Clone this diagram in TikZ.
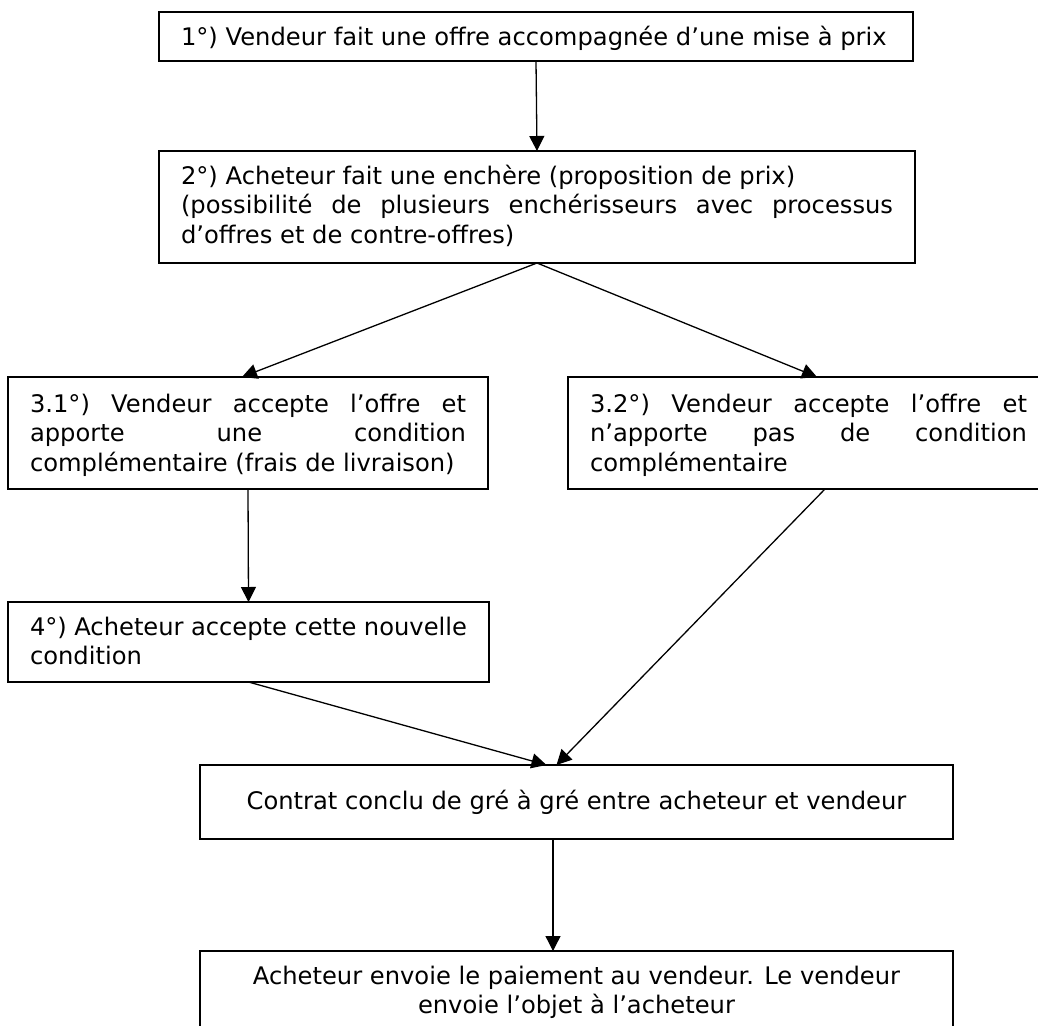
\documentclass[tikz,border=0pt]{standalone}
\usepackage{fontspec}
\setmainfont{DejaVu Sans}
\usetikzlibrary{arrows.meta}
% #1 text width, #2 box height, #3 gap above first line, #4 text
\newcommand\boxtxt[4]{\parbox[c][#2pt][t]{#1pt}{\hyphenpenalty=10000\relax\exhyphenpenalty=10000\relax\vspace*{#3pt}\strut #4}}
\begin{document}
\begin{tikzpicture}[x=1pt,y=-1pt,
  box/.style={draw, line width=1.4pt, anchor=north west, inner xsep=22pt, inner ysep=0pt, outer sep=0pt,
              font=\fontsize{24.2}{29.5}\selectfont},
  conn/.style={line width=1.3pt, -{Triangle[length=15pt,width=15pt]}},
]
\useasboundingbox (0,0) rectangle (1038,1025);
\fill[white] (0,0) rectangle (1038,1025);
\clip (0,0) rectangle (1038,1025);

\node[box] (b1) at (159,12) {\boxtxt{710}{49}{12.5}{1°) Vendeur fait une offre accompagnée d’une mise à prix}};
\node[box] (b2) at (159,151) {\boxtxt{712}{112}{12.8}{2°) Acheteur fait une enchère (proposition de prix)\newline
(possibilité de plusieurs enchérisseurs avec processus\linebreak
d’offres et de contre-offres)}};
\node[box] (b31) at (8,377) {\boxtxt{436}{112}{14.8}{3.1°) Vendeur accepte l’offre et\linebreak
apporte une condition\linebreak
complémentaire (frais de livraison)}};
\node[box] (b32) at (568,377) {\boxtxt{437}{112}{14.8}{3.2°) Vendeur accepte l’offre et\linebreak
n’apporte pas de condition\linebreak
complémentaire}};
\node[box] (b4) at (8,602) {\boxtxt{437}{80}{12.8}{4°) Acheteur accepte cette nouvelle\linebreak
condition}};
\node[box] (b5) at (200,765) {\boxtxt{709}{74}{24}{\centering Contrat conclu de gré à gré entre acheteur et vendeur}};
\node[box] (b6) at (200,951) {\boxtxt{709}{100}{12.8}{\centering Acheteur envoie le paiement au vendeur. Le vendeur\\
envoie l’objet à l’acheteur}};

\draw[conn] (b1.south) -- (b2.north);
\draw[conn] (b2.south) -- ([xshift=-6pt]b31.north);
\draw[conn] (b2.south) -- ([xshift=8.5pt]b32.north);
\draw[conn] (b31.south) -- (b4.north);
\draw[conn] (b4.south) -- ([xshift=-30pt]b5.north);
\draw[conn] ([xshift=16.5pt]b32.south) -- ([xshift=-20pt]b5.north);
\draw[conn] ([xshift=-23.5pt]b5.south) -- ([xshift=-23.5pt]b6.north);
\end{tikzpicture}
\end{document}
